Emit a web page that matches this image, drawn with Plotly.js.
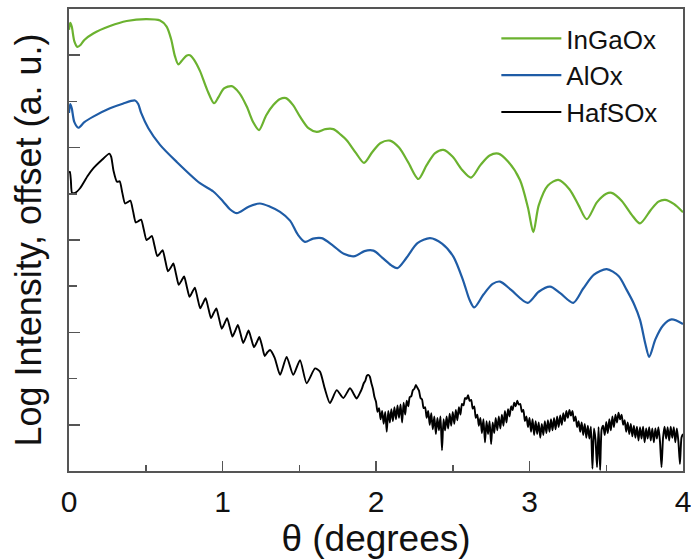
<!DOCTYPE html>
<html>
<head>
<meta charset="utf-8">
<script src="https://cdn.plot.ly/plotly-3.0.1.min.js"></script>
<style>html,body{margin:0;padding:0;background:#fff;}#chart{width:691px;height:559px;}</style>
</head>
<body>
<div id="chart"></div>
<script>
// ---- data ----
const seriesNames = ["InGaOx", "AlOx", "HafSOx"];

const inGaOxX = [0.000,0.008,0.018,0.035,0.055,0.075,0.10,0.158,0.267,0.376,0.506,0.593,0.636,0.665,0.690,0.712,0.735,0.765,0.788,0.815,0.853,0.90,0.945,0.975,1.010,1.060,1.110,1.158,1.200,1.238,1.285,1.331,1.375,1.414,1.460,1.505,1.560,1.614,1.670,1.722,1.770,1.809,1.870,1.922,1.975,2.030,2.091,2.150,2.210,2.276,2.330,2.385,2.439,2.500,2.560,2.619,2.680,2.740,2.797,2.860,2.938,2.990,3.025,3.060,3.120,3.188,3.260,3.320,3.373,3.440,3.500,3.535,3.600,3.665,3.720,3.790,3.840,3.883,3.940,4.000];
const inGaOxY = [9.55,9.70,9.62,9.30,9.18,9.22,9.33,9.47,9.63,9.74,9.78,9.75,9.62,9.35,8.98,8.80,8.88,8.99,9.00,8.90,8.66,8.25,7.96,8.10,8.28,8.33,8.18,7.89,7.55,7.38,7.70,7.92,8.05,8.07,7.92,7.67,7.42,7.34,7.40,7.40,7.28,7.16,6.88,6.67,6.90,7.10,7.15,7.00,6.68,6.32,6.62,6.88,6.95,6.80,6.52,6.35,6.62,6.83,6.87,6.70,6.30,5.70,5.17,5.75,6.18,6.30,6.10,5.75,5.45,5.82,6.00,6.02,5.85,5.55,5.36,5.65,5.83,5.87,5.78,5.60];

const alOxX = [0.000,0.008,0.018,0.035,0.061,0.10,0.158,0.267,0.350,0.430,0.450,0.470,0.517,0.593,0.702,0.853,0.940,1.005,1.050,1.093,1.170,1.244,1.310,1.375,1.440,1.490,1.537,1.590,1.646,1.720,1.790,1.863,1.925,1.983,2.040,2.100,2.139,2.200,2.270,2.352,2.430,2.504,2.570,2.610,2.640,2.700,2.760,2.808,2.880,2.988,3.060,3.134,3.200,3.285,3.350,3.420,3.503,3.580,3.633,3.680,3.720,3.755,3.780,3.820,3.870,3.926,4.000];
const alOxY = [7.75,7.94,7.85,7.55,7.43,7.55,7.67,7.85,7.95,8.02,7.95,7.75,7.42,7.06,6.69,6.23,6.05,5.83,5.66,5.58,5.72,5.79,5.72,5.61,5.42,5.12,4.96,5.03,5.04,4.88,4.70,4.65,4.76,4.77,4.62,4.45,4.39,4.62,4.93,5.04,4.92,4.64,4.10,3.70,3.54,3.82,4.05,4.10,3.92,3.64,3.88,3.99,3.85,3.64,3.95,4.25,4.37,4.22,3.92,3.62,3.27,2.75,2.47,2.85,3.15,3.28,3.18];

const hafSOxX = [0.000,0.006,0.012,0.020,0.040,0.072,0.120,0.158,0.210,0.263,0.275,0.290,
0.3125,0.330,0.3475,0.365,0.3825,0.400,0.4175,0.435,0.4525,0.470,0.4875,0.505,0.5225,0.540,0.5575,0.575,0.5925,0.610,0.6275,0.645,0.6625,0.680,0.6975,0.715,0.7325,0.750,0.7675,0.785,0.8025,0.820,0.8375,0.855,0.8725,0.890,0.9075,0.925,0.9425,0.960,0.9775,0.995,1.0125,1.030,1.0475,1.065,1.0825,1.100,1.1175,1.135,1.1525,1.170,1.1875,1.205,1.2225,1.240,1.2575,1.275,1.2925,
1.310,1.340,1.375,1.418,1.461,1.505,1.548,1.603,1.635,1.665,1.700,1.744,1.787,1.831,1.874,
1.90,1.91,1.92,1.93,1.94,1.95,1.96,1.97,1.98,1.99,
2.00,2.01,2.02,2.03,2.04,2.05,2.06,2.07,2.08,2.09,
2.10,2.11,2.12,2.13,2.14,2.15,2.16,2.17,2.18,2.19,
2.20,2.21,2.22,2.23,2.24,2.25,2.26,2.27,2.28,2.29,
2.30,2.31,2.32,2.33,2.34,2.35,2.36,2.37,2.38,2.39,
2.40,2.41,2.42,2.43,2.44,2.45,2.46,2.47,2.48,2.49,
2.50,2.51,2.52,2.53,2.54,2.55,2.56,2.57,2.58,2.59,
2.60,2.61,2.62,2.63,2.64,2.65,2.66,2.67,2.68,2.69,
2.70,2.71,2.72,2.73,2.74,2.75,2.76,2.77,2.78,2.79,
2.80,2.81,2.82,2.83,2.84,2.85,2.86,2.87,2.88,2.89,
2.90,2.91,2.92,2.93,2.94,2.95,2.96,2.97,2.98,2.99,
3.00,3.01,3.02,3.03,3.04,3.05,3.06,3.07,3.08,3.09,
3.10,3.11,3.12,3.13,3.14,3.15,3.16,3.17,3.18,3.19,
3.20,3.21,3.22,3.23,3.24,3.25,3.26,3.27,3.28,3.29,
3.30,3.31,3.32,3.33,3.34,3.35,3.36,3.37,3.38,3.39,
3.40,3.41,3.42,3.43,3.44,3.45,3.46,3.47,3.48,3.49,
3.50,3.51,3.52,3.53,3.54,3.55,3.56,3.57,3.58,3.59,
3.60,3.61,3.62,3.63,3.64,3.65,3.66,3.67,3.68,3.69,
3.70,3.71,3.72,3.73,3.74,3.75,3.76,3.77,3.78,3.79,
3.80,3.81,3.82,3.83,3.84,3.85,3.86,3.87,3.88,3.89,
3.90,3.91,3.92,3.93,3.94,3.95,3.96,3.97,3.98,3.99,4.00];
const hafSOxY = [6.45,6.48,6.30,6.02,6.02,6.12,6.38,6.55,6.72,6.87,6.80,6.50,
6.26,6.27,6.02,5.79,5.82,5.85,5.62,5.38,5.41,5.44,5.22,5.00,5.04,5.09,4.87,4.65,4.71,4.78,4.55,4.32,4.40,4.49,4.26,4.03,4.12,4.21,3.99,3.77,3.87,3.97,3.74,3.52,3.63,3.74,3.53,3.31,3.42,3.52,3.30,3.08,3.19,3.31,3.11,2.91,3.03,3.16,2.97,2.77,2.90,3.04,2.86,2.68,2.78,2.90,2.71,2.49,2.57,
2.62,2.45,2.08,2.47,2.08,2.40,1.90,2.22,2.15,1.80,1.47,1.75,1.58,1.79,1.57,
1.72,1.80,1.90,1.95,2.06,2.08,2.04,1.90,1.78,1.60,
1.50,1.28,1.36,1.12,1.30,1.02,1.28,0.85,1.30,1.05,
1.34,1.08,1.38,1.12,1.42,1.15,1.44,1.05,1.48,1.22,
1.52,1.40,1.60,1.62,1.75,1.78,1.86,1.80,1.74,1.58,
1.55,1.36,1.38,1.15,1.30,1.00,1.25,0.90,1.18,0.80,
1.15,0.88,1.18,0.45,1.12,0.88,1.18,0.92,1.24,0.98,
1.28,1.02,1.32,1.10,1.38,1.22,1.45,1.42,1.58,1.56,
1.64,1.52,1.54,1.35,1.40,1.15,1.22,0.98,1.15,0.82,
1.12,0.62,1.08,0.80,1.08,0.58,1.05,0.82,1.15,0.88,
1.18,0.92,1.22,0.98,1.30,1.05,1.34,1.18,1.40,1.32,
1.48,1.40,1.52,1.44,1.45,1.28,1.32,1.08,1.18,0.95,
1.15,0.85,1.12,0.78,1.08,0.80,1.05,0.72,1.02,0.78,
1.08,0.82,1.10,0.85,1.12,0.88,1.15,0.90,1.18,0.95,
1.20,1.00,1.25,1.08,1.30,1.15,1.32,1.20,1.30,1.08,
1.18,0.95,1.08,0.85,1.05,0.78,1.02,0.72,0.98,0.70,
0.96,0.05,0.92,0.68,0.08,0.95,0.02,0.90,0.98,0.78,
1.06,0.82,1.12,0.88,1.18,0.95,1.22,1.05,1.26,1.12,
1.22,1.00,1.10,0.85,1.05,0.80,1.02,0.75,0.98,0.72,
0.96,0.66,0.95,0.70,0.96,0.62,0.92,0.70,0.95,0.66,
0.92,0.62,0.92,0.70,0.95,0.64,0.08,0.72,0.96,0.70,
0.95,0.66,0.96,0.72,0.95,0.62,0.92,0.64,0.15,0.72,0.80];

const xTickVals = [0, 1, 2, 3, 4];
const xTickText = ["0", "1", "2", "3", "4"];
const xMinorVals = [0.5, 1.5, 2.5, 3.5];
const yTickVals = [1, 3, 5, 7, 9];
const yMinorVals = [2, 4, 6, 8];

// ---- styling ----
const FONT = "Arial, 'Liberation Sans', sans-serif";
const AXIS_COLOR = "#555555";

const traces = [
  {x: inGaOxX, y: inGaOxY, name: seriesNames[0], mode: "lines",
   line: {color: "#6bb22f", width: 2.2, shape: "spline", smoothing: 0.8}},
  {x: alOxX, y: alOxY, name: seriesNames[1], mode: "lines",
   line: {color: "#1f5ca6", width: 2.2, shape: "spline", smoothing: 0.8}},
  {x: hafSOxX, y: hafSOxY, name: seriesNames[2], mode: "lines",
   line: {color: "#000000", width: 1.9, shape: "spline", smoothing: 0.6}}
];

const layout = {
  width: 691, height: 559,
  margin: {l: 69, r: 8, t: 9, b: 88},
  paper_bgcolor: "#ffffff", plot_bgcolor: "#ffffff",
  font: {family: FONT, color: "#111111"},
  showlegend: true,
  legend: {x: 0.696, xanchor: "left", y: 0.987, yanchor: "top",
           font: {family: FONT, size: 26, color: "#111111"},
           bgcolor: "rgba(0,0,0,0)", itemwidth: 60},
  xaxis: {
    range: [0, 4], showgrid: false, zeroline: false,
    showline: true, linecolor: AXIS_COLOR, linewidth: 1.6, mirror: true,
    ticks: "inside", ticklen: 10, tickwidth: 1.5, tickcolor: AXIS_COLOR,
    tickvals: xTickVals, ticktext: xTickText, ticklabeloverflow: "allow",
    ticklabelstandoff: 3,
    tickfont: {family: FONT, size: 30, color: "#111111"},
    minor: {tickvals: xMinorVals, ticks: "inside", ticklen: 6, tickwidth: 1.5, tickcolor: AXIS_COLOR, showgrid: false},
    title: {text: "θ (degrees)", font: {family: FONT, size: 37, color: "#111111"}, standoff: 13},
    fixedrange: true
  },
  yaxis: {
    range: [0, 10], showgrid: false, zeroline: false,
    showline: true, linecolor: AXIS_COLOR, linewidth: 1.6, mirror: true,
    ticks: "inside", ticklen: 11, tickwidth: 1.5, tickcolor: AXIS_COLOR,
    tickvals: yTickVals, showticklabels: false,
    minor: {tickvals: yMinorVals, ticks: "inside", ticklen: 8, tickwidth: 1.5, tickcolor: AXIS_COLOR, showgrid: false},
    title: {text: "Log Intensity, offset (a. u.)", font: {family: FONT, size: 36, color: "#111111"}, standoff: 15},
    fixedrange: true
  }
};

Plotly.newPlot("chart", traces, layout, {staticPlot: true, displayModeBar: false});
</script>
</body>
</html>
